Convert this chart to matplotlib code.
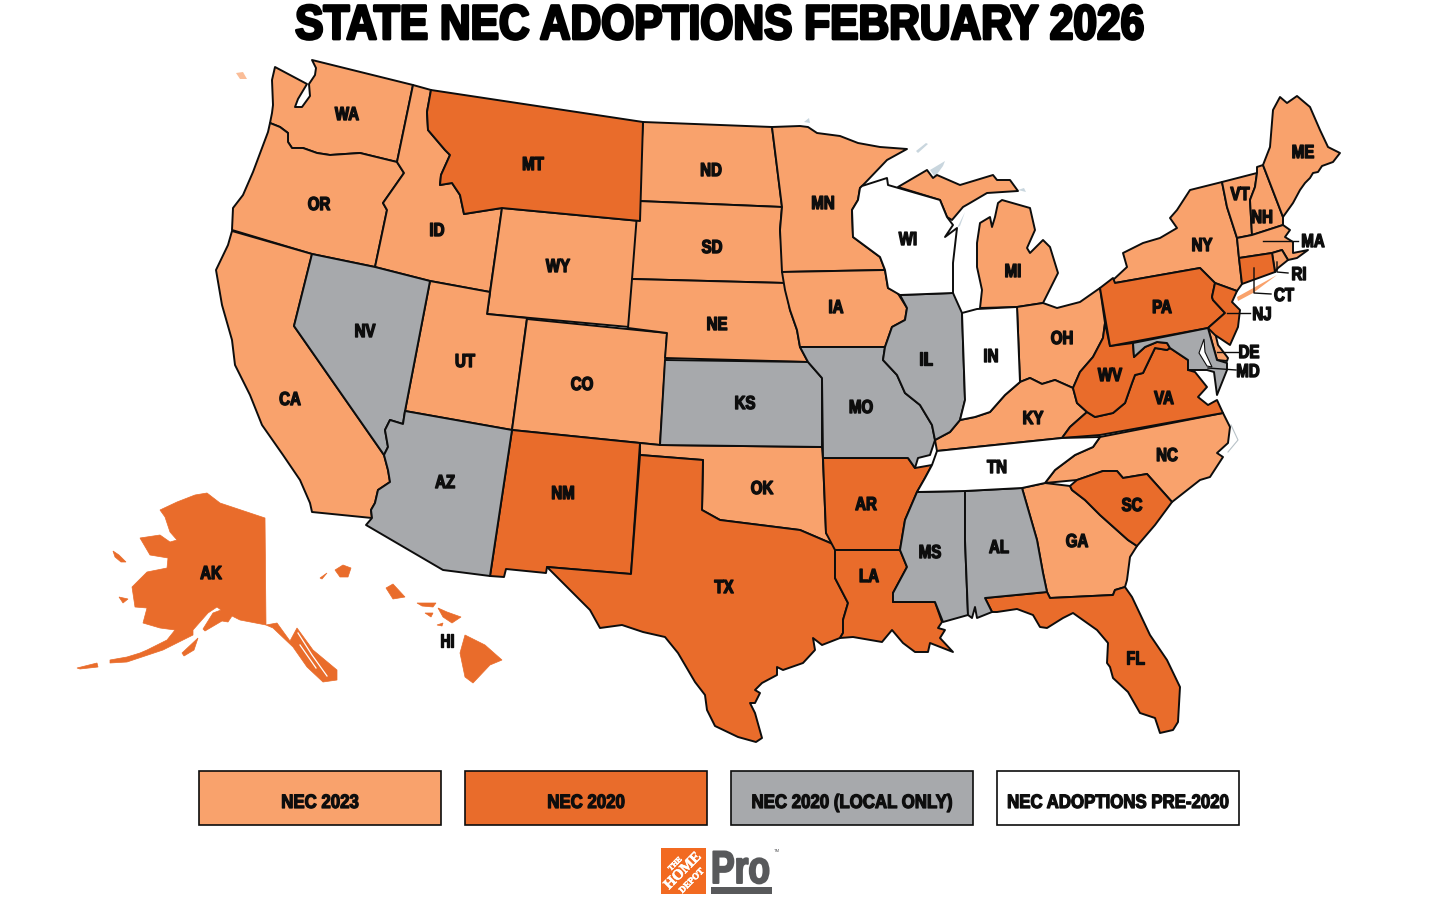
import matplotlib
matplotlib.use("Agg")
import matplotlib.pyplot as plt
import matplotlib.patheffects as pe
from matplotlib.patches import Polygon, Rectangle
from matplotlib.transforms import Affine2D

LIGHT = "#F9A26C"
DARK = "#E96C2B"
GRAY = "#A7A9AC"
WHITE = "#FFFFFF"
LAKE = "#C9D6DE"
INK = "#0D0D0D"
FONT = ["Liberation Sans", "DejaVu Sans"]

TITLE = "STATE NEC ADOPTIONS FEBRUARY 2026"
LEGEND_LABELS = ["NEC 2023", "NEC 2020", "NEC 2020 (LOCAL ONLY)", "NEC ADOPTIONS PRE-2020"]
LEGEND_COLORS = [LIGHT, DARK, GRAY, WHITE]

NEC_2023 = ["WA", "OR", "CA", "ID", "WY", "UT", "CO", "ND", "SD", "NE", "OK", "MN", "IA", "MI_UP", "MI_LP",
            "OH", "KY", "GA", "NC", "NY", "VT", "NH", "ME", "MA", "RI", "DE"]
NEC_2020 = ["MT", "NM", "TX", "AR", "LA", "FL", "SC", "VA", "WV", "PA", "NJ", "CT"]
NEC_LOCAL = ["NV", "AZ", "KS", "MO", "IL", "MS", "AL", "MD"]
NEC_OLD = ["WI", "IN", "TN"]

# outlines, in image pixels
OUTLINES = {
    "WA": [(312,60),(413,85),(397,162),(360,153),(330,155),(317,153),(303,148),(292,148),(288,142),(288,133),(280,127),(270,123),(272,113),(273,105),(272,80),(275,67),(307,84),(298,99),(295,107),(302,107),(310,96),(309,84),(315,75),(316,68)],
    "OR": [(270,123),(280,127),(288,133),(288,142),(292,148),(303,148),(317,153),(330,155),(360,153),(397,162),(404,173),(383,203),(387,210),(375,267),(312,254),(232,230),(233,208),(243,195),(253,172),(268,132)],
    "CA": [(232,231),(312,254),(294,326),(384,455),(388,470),(390,482),(378,490),(375,503),(371,510),(372,518),(312,512),(310,503),(300,480),(283,455),(262,425),(250,395),(235,365),(232,340),(222,305),(216,270),(228,245)],
    "NV": [(312,254),(375,267),(430,281),(405,411),(403,424),(390,420),(385,430),(388,447),(384,455),(294,326)],
    "ID": [(413,85),(431,90),(427,112),(428,130),(445,150),(450,155),(441,175),(440,185),(452,183),(460,195),(464,214),(502,208),(490,292),(430,281),(375,267),(387,210),(383,203),(404,173),(397,162)],
    "MT": [(431,90),(643,122),(640,221),(502,208),(464,214),(460,195),(452,183),(440,185),(441,175),(450,155),(445,150),(428,130),(427,112)],
    "WY": [(502,208),(640,221),(629,327),(487,314)],
    "UT": [(430,281),(490,292),(487,314),(527,318),(512,430),(405,411)],
    "CO": [(527,319),(667,333),(660,445),(512,430)],
    "AZ": [(405,411),(512,430),(490,576),(443,570),(366,525),(372,518),(371,510),(375,503),(378,490),(390,482),(388,470),(384,455),(388,447),(385,430),(390,420),(403,424)],
    "NM": [(512,430),(640,443),(631,574),(547,567),(546,573),(506,569),(504,577),(490,576)],
    "ND": [(643,122),(772,127),(782,207),(638,201)],
    "SD": [(638,201),(782,207),(780,230),(785,283),(632,279)],
    "NE": [(632,279),(785,283),(790,310),(797,330),(800,347),(808,362),(665,358),(667,333),(628,328)],
    "KS": [(665,360),(808,362),(822,378),(822,447),(660,445)],
    "OK": [(640,443),(660,445),(822,447),(823,460),(826,533),(835,545),(800,530),(760,525),(720,520),(702,510),(703,460),(640,455)],
    "TX": [(640,455),(703,460),(702,510),(720,520),(760,525),(800,530),(835,545),(835,578),(848,603),(843,620),(843,633),(840,638),(822,645),(813,638),(815,650),(803,663),(783,670),(777,667),(777,675),(762,683),(755,690),(760,693),(755,703),(750,703),(755,713),(762,738),(756,742),(738,737),(715,726),(707,710),(705,695),(695,682),(678,653),(665,637),(643,632),(622,625),(600,628),(590,610),(570,590),(547,567),(631,574)],
    "MN": [(772,127),(800,126),(808,127),(817,133),(840,136),(858,143),(880,147),(907,149),(887,160),(865,183),(860,188),(858,200),(852,210),(853,237),(880,257),(885,270),(782,272),(780,230),(782,207)],
    "IA": [(782,272),(885,270),(888,288),(897,292),(907,308),(905,320),(892,327),(885,347),(800,347),(797,330),(790,310),(785,290)],
    "MO": [(800,347),(885,347),(883,360),(897,375),(905,393),(920,405),(932,425),(935,440),(930,455),(918,458),(915,468),(908,458),(823,458),(822,378),(808,362)],
    "AR": [(823,458),(908,458),(915,468),(932,465),(925,478),(917,492),(905,520),(900,550),(835,550),(826,533)],
    "LA": [(835,550),(900,550),(907,567),(893,593),(893,602),(935,602),(942,622),(938,628),(945,630),(940,638),(953,652),(930,643),(928,652),(915,652),(903,643),(892,630),(882,642),(853,637),(840,638),(843,633),(843,620),(848,603),(835,578)],
    "WI": [(862,186),(887,178),(888,185),(940,200),(947,217),(953,225),(945,237),(957,228),(953,263),(953,293),(900,295),(888,288),(885,270),(880,257),(853,237),(852,210),(858,200),(860,188)],
    "IL": [(900,295),(953,293),(962,313),(965,400),(960,420),(950,432),(935,440),(932,425),(920,405),(905,393),(897,375),(883,360),(885,347),(892,327),(905,320),(907,308)],
    "IN": [(962,313),(977,309),(1017,307),(1020,382),(1005,395),(990,412),(975,417),(960,420),(965,400)],
    "OH": [(1017,307),(1043,303),(1057,308),(1080,302),(1100,288),(1105,323),(1103,338),(1093,357),(1080,372),(1073,388),(1055,380),(1042,384),(1030,378),(1020,382)],
    "KY": [(937,451),(935,440),(950,432),(960,420),(975,417),(990,412),(1005,395),(1020,382),(1030,378),(1042,384),(1055,380),(1073,388),(1077,403),(1087,412),(1070,427),(1062,438)],
    "TN": [(917,492),(925,478),(932,465),(937,451),(1062,438),(1100,437),(1093,447),(1075,455),(1055,470),(1045,483),(1022,488),(965,491)],
    "MS": [(917,492),(965,491),(965,540),(968,615),(943,622),(935,602),(893,602),(893,593),(907,567),(900,550),(905,520)],
    "AL": [(965,491),(1022,488),(1037,540),(1043,573),(1047,592),(985,598),(992,612),(977,618),(975,607),(972,618),(968,615),(965,540)],
    "GA": [(1022,488),(1045,483),(1070,486),(1072,490),(1085,500),(1100,515),(1128,540),(1137,546),(1130,557),(1127,580),(1125,587),(1115,590),(1113,595),(1050,598),(1047,592),(1043,573),(1037,540)],
    "FL": [(985,598),(1047,592),(1050,598),(1113,595),(1115,590),(1125,587),(1132,597),(1150,635),(1167,660),(1180,687),(1178,722),(1173,730),(1160,733),(1155,718),(1140,713),(1128,692),(1113,678),(1110,667),(1107,663),(1108,643),(1097,630),(1073,613),(1063,618),(1047,628),(1040,627),(1033,615),(1017,609),(997,612),(992,612)],
    "SC": [(1070,486),(1077,480),(1103,471),(1117,471),(1123,478),(1147,474),(1172,502),(1155,525),(1137,546),(1128,540),(1100,515),(1085,500),(1072,490)],
    "NC": [(1100,437),(1223,413),(1230,427),(1228,443),(1217,453),(1223,457),(1210,477),(1200,480),(1172,502),(1147,474),(1123,478),(1117,471),(1103,471),(1077,480),(1045,483),(1055,470),(1075,455),(1093,447)],
    "VA": [(1062,438),(1070,427),(1087,412),(1095,417),(1113,413),(1125,403),(1132,383),(1135,375),(1143,373),(1155,348),(1167,350),(1170,348),(1188,360),(1188,370),(1195,372),(1207,387),(1198,397),(1208,405),(1217,400),(1223,413),(1100,435)],
    "WV": [(1105,323),(1110,346),(1133,343),(1134,357),(1145,347),(1157,342),(1167,343),(1170,348),(1167,350),(1155,348),(1143,373),(1135,375),(1132,383),(1125,403),(1113,413),(1095,417),(1087,412),(1077,403),(1073,388),(1080,372),(1093,357),(1103,338)],
    "MD": [(1133,343),(1208,328),(1217,360),(1227,363),(1227,370),(1217,395),(1214,372),(1207,370),(1188,370),(1188,360),(1170,348),(1167,343),(1157,342),(1145,347),(1134,357)],
    "DE": [(1208,328),(1214,328),(1218,345),(1228,358),(1227,361),(1217,360)],
    "PA": [(1100,288),(1113,278),(1115,283),(1200,268),(1215,283),(1212,297),(1213,300),(1225,313),(1208,328),(1110,346)],
    "NJ": [(1215,283),(1237,291),(1232,302),(1240,310),(1238,327),(1230,345),(1215,335),(1208,328),(1225,313),(1213,300),(1212,297)],
    "NY": [(1113,280),(1127,267),(1123,253),(1143,243),(1160,238),(1177,228),(1170,218),(1177,210),(1190,190),(1222,182),(1227,207),(1237,238),(1239,258),(1242,284),(1237,291),(1215,283),(1200,268),(1115,283)],
    "VT": [(1222,182),(1257,173),(1255,187),(1250,200),(1252,235),(1237,238),(1227,207)],
    "NH": [(1257,173),(1257,167),(1263,165),(1283,217),(1283,225),(1252,235),(1250,200),(1255,187)],
    "ME": [(1263,165),(1270,147),(1273,110),(1280,97),(1287,103),(1297,96),(1310,107),(1320,130),(1328,147),(1340,153),(1333,162),(1322,166),(1318,172),(1313,173),(1310,178),(1305,183),(1300,190),(1293,203),(1283,217)],
    "MA": [(1237,238),(1252,235),(1283,225),(1290,230),(1285,237),(1293,242),(1293,253),(1308,250),(1297,258),(1288,260),(1282,250),(1272,253),(1239,258)],
    "CT": [(1239,258),(1272,253),(1275,272),(1242,284)],
    "RI": [(1272,253),(1282,250),(1288,260),(1278,268),(1275,272)],
    "MI_UP": [(898,187),(927,170),(933,178),(937,175),(960,185),(993,175),(997,180),(1010,180),(1018,191),(987,193),(970,203),(963,207),(952,220),(947,217),(940,200)],
    "MI_LP": [(1002,200),(1030,208),(1035,230),(1027,248),(1030,253),(1043,240),(1050,247),(1058,273),(1043,303),(1017,307),(980,308),(982,290),(977,267),(977,243),(980,223),(990,217),(992,227),(995,217),(998,203)],
}

CHESAPEAKE = [(1204,339),(1199,353),(1207,366),(1212,367),(1205,352)]
LONG_ISLAND = [(1237,297),(1277,275),(1253,293),(1238,301)]
OUTER_BANKS = [(1231,425),(1238,440),(1228,452)]

ALASKA = [
    [(160,510),(177,502),(195,495),(207,493),(220,503),(250,513),(265,518),(266,625),(240,620),(232,616),(228,622),(222,621),(205,631),(203,629),(213,613),(221,610),(217,607),(208,613),(193,630),(193,635),(177,643),(163,650),(142,657),(127,662),(110,663),(110,660),(127,657),(140,653),(147,650),(167,640),(175,630),(160,628),(143,623),(147,608),(135,607),(132,587),(147,572),(167,568),(168,558),(150,555),(140,538),(160,535),(170,542),(177,540),(170,532),(165,517)],
    [(77,668),(97,663),(98,667),(80,669)],
    [(182,653),(198,638),(194,650),(184,656)],
    [(266,625),(277,623),(290,641),(297,628),(313,650),(337,670),(337,680),(323,682),(307,667),(293,647),(273,628)],
    [(113,551),(119,555),(126,562),(121,562),(115,557)],
    [(119,597),(128,599),(123,603)],
]
PANHANDLE_GAPS = [
    [(298,633),(312,655),(327,676)],
    [(300,645),(316,668)],
]
HAWAII = [
    [(335,570),(343,565),(351,568),(348,577),(340,577)],
    [(320,578),(327,573),(322,579)],
    [(386,588),(393,584),(405,597),(393,599)],
    [(417,603),(436,603),(433,607),(422,606)],
    [(425,613),(433,613),(431,617)],
    [(438,608),(447,612),(461,617),(452,623),(443,617)],
    [(437,625),(443,623),(442,626)],
    [(465,635),(485,645),(502,660),(490,665),(473,683),(465,677),(460,653)],
]
LAKE_BITS = [
    [(916,151),(926,143),(928,144),(918,153)],
    [(930,170),(945,161),(943,166),(935,177)],
    [(957,228),(965,212),(960,226)],
    [(1018,190),(1024,188),(1026,192)],
    [(804,122),(809,118),(810,123)],
]
SAN_JUAN = [(236,73),(243,72),(247,79),(240,79)]

LABELS = {
    "WA": (347,113), "OR": (319,203), "CA": (290,398), "NV": (365,330), "ID": (437,229), "MT": (533,163),
    "WY": (558,265), "UT": (465,360), "AZ": (445,481), "CO": (582,383), "NM": (563,492), "ND": (711,169),
    "SD": (712,246), "NE": (717,323), "KS": (745,402), "OK": (762,487), "TX": (724,586), "MN": (823,202),
    "IA": (836,306), "MO": (861,406), "AR": (866,503), "LA": (869,575), "WI": (908,238), "IL": (926,358),
    "MS": (930,551), "AL": (999,546), "TN": (997,466), "KY": (1033,417), "IN": (991,355), "MI": (1013,270),
    "OH": (1062,337), "GA": (1077,540), "FL": (1135,657), "SC": (1132,504), "NC": (1167,454), "VA": (1164,397),
    "WV": (1110,374), "PA": (1162,306), "NY": (1202,244), "VT": (1240,193), "NH": (1262,216), "ME": (1303,151),
    "MA": (1313,240), "RI": (1299,273), "CT": (1284,294), "NJ": (1262,313), "DE": (1249,351), "MD": (1248,370),
    "AK": (211,572), "HI": (447,640),
}
LEADERS = [
    [(1263,241),(1298,241)],
    [(1277,262),(1277,272),(1288,273)],
    [(1254,268),(1254,293),(1271,294)],
    [(1227,313),(1250,313)],
    [(1217,352),(1238,352)],
    [(1208,368),(1236,370)],
]


class Squeeze(pe.AbstractPathEffect):
    # no condensed heavy font installed, so reshape the glyphs and fatten them
    def __init__(self, cx, sx, stroke, cy=0, sy=1):
        super().__init__()
        self.cx = cx
        self.cy = cy
        self.sx = sx
        self.sy = sy
        self.stroke = stroke

    def draw_path(self, renderer, gc, tpath, affine, rgbFace):
        squeezed = affine + Affine2D().translate(-self.cx, -self.cy).scale(self.sx, self.sy).translate(self.cx, self.cy)
        gc0 = renderer.new_gc()
        gc0.copy_properties(gc)
        gc0.set_foreground(rgbFace)
        gc0.set_linewidth(self.stroke)
        renderer.draw_path(gc0, tpath, squeezed, rgbFace)
        gc0.restore()


fig = plt.figure(figsize=(14.4, 9), dpi=100)
ax = fig.add_axes([0, 0, 1, 1])
ax.set_xlim(0, 1440)
ax.set_ylim(900, 0)
ax.axis("off")

for group, color in [(NEC_2023, LIGHT), (NEC_2020, DARK), (NEC_LOCAL, GRAY), (NEC_OLD, WHITE)]:
    for st in group:
        ax.add_patch(Polygon(OUTLINES[st], closed=True, facecolor=color, edgecolor=INK, linewidth=1.4, joinstyle="round", zorder=2))

ax.add_patch(Polygon(CHESAPEAKE, closed=True, facecolor=WHITE, edgecolor=INK, linewidth=0.8, zorder=3))
ax.add_patch(Polygon(LONG_ISLAND, closed=True, facecolor=LIGHT, edgecolor="none", zorder=2))
ax.plot(*zip(*OUTER_BANKS), color="#B8C2C8", linewidth=0.8, zorder=1)
ax.add_patch(Polygon(SAN_JUAN, closed=True, facecolor=LIGHT, edgecolor="none", alpha=0.7, zorder=2))

for part in ALASKA + HAWAII:
    ax.add_patch(Polygon(part, closed=True, facecolor=DARK, edgecolor=DARK, linewidth=0.5, zorder=2))
for gap in PANHANDLE_GAPS:
    ax.plot(*zip(*gap), color=WHITE, linewidth=0.9, zorder=3)
for bit in LAKE_BITS:
    ax.add_patch(Polygon(bit, closed=True, facecolor=LAKE, edgecolor="none", zorder=1))

for line in LEADERS:
    ax.plot(*zip(*line), color=INK, linewidth=1.0, zorder=4)

for name, (x, y) in LABELS.items():
    ax.text(x, y + 7, name, ha="center", va="baseline", family=FONT, weight="bold", fontsize=13.5,
            color=INK, path_effects=[Squeeze(x, 0.8, 1.0)], zorder=5)

ax.text(719.5, 39, TITLE, ha="center", va="baseline", family=FONT, weight="bold", fontsize=35,
        color="black", path_effects=[Squeeze(719.5, 0.874, 2.0)], zorder=5)

box_left = [199, 465, 731, 997]
for left, label, color in zip(box_left, LEGEND_LABELS, LEGEND_COLORS):
    ax.add_patch(Rectangle((left, 771), 242, 54, facecolor=color, edgecolor=INK, linewidth=1.2, zorder=2))
    ax.text(left + 121, 808, label, ha="center", va="baseline", family=FONT, weight="bold", fontsize=14,
            color=INK, path_effects=[Squeeze(left + 121, 0.865, 0.9)], zorder=5)

# logo
ax.add_patch(Rectangle((661, 848), 45, 46, facecolor="#F26A21", edgecolor="none", zorder=2))
for word, wx, wy, size in [("THE", 675, 864, 5.5), ("HOME", 683, 871, 10.5), ("DEPOT", 692, 881, 6.5)]:
    ax.text(wx, wy, word, ha="center", va="center", rotation=45, family="Liberation Serif", weight="bold",
            fontsize=size, color="white", path_effects=[pe.withStroke(linewidth=0.4, foreground="white")], zorder=3)
ax.text(711, 883, "Pro", ha="left", va="baseline", family=FONT, weight="bold", fontsize=26, color="#58595B",
        path_effects=[Squeeze(711, 0.98, 1.4, cy=17, sy=1.27)], zorder=3)
ax.add_patch(Rectangle((711, 887), 61, 7, facecolor="#58595B", edgecolor="none", zorder=2))
ax.text(774, 851, "TM", ha="left", va="center", family=FONT, fontsize=3, color="#58595B", zorder=3)

fig.savefig("out.png", dpi=100, facecolor="white")
plt.close(fig)
